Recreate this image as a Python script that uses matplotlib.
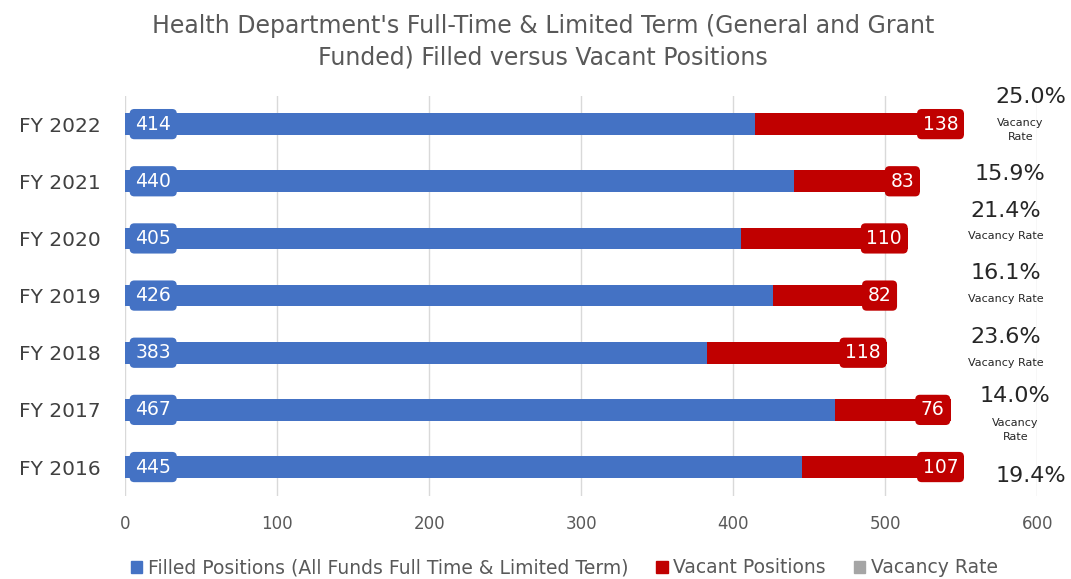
import matplotlib.pyplot as plt
from matplotlib.patches import Patch

plt.rcParams['font.family'] = ['DejaVu Sans']

years = ['FY 2016', 'FY 2017', 'FY 2018', 'FY 2019', 'FY 2020', 'FY 2021', 'FY 2022']
filled = [445, 467, 383, 426, 405, 440, 414]
vacant = [107, 76, 118, 82, 110, 83, 138]
rate_notes = ['', 'Vacancy\nRate', 'Vacancy Rate', 'Vacancy Rate', 'Vacancy Rate', '', 'Vacancy\nRate']

# where each vacancy-rate note sits (pixels): x shift, pct y shift, note y shift
note_pos = [(15, -9, 0), (0, 14, -20), (-10, 16, -10), (-10, 23, -3),
            (-10, 27, 2), (-5, 7, 0), (15, 27, -6)]

blue = '#4472C4'
red = '#C00000'

fig = plt.figure(figsize=(10.71, 5.79), dpi=100)
ax = fig.add_axes([0.117, 0.144, 0.8515, 0.691])

y = range(len(years))
ax.barh(y, filled, height=0.38, color=blue, zorder=2)
ax.barh(y, vacant, left=filled, height=0.38, color=red, zorder=2)

for i in y:
    ax.annotate(str(filled[i]), (0, i), xytext=(10, 0), textcoords='offset pixels',
                ha='left', va='center', color='white', fontsize=13.5, zorder=4,
                bbox=dict(boxstyle='round,pad=0.3,rounding_size=0.25', fc=blue, ec='none'))
    end = filled[i] + vacant[i]
    ax.annotate(str(vacant[i]), (end, i), xytext=(-6, 0), textcoords='offset pixels',
                ha='right', va='center', color='white', fontsize=13.5, zorder=4,
                bbox=dict(boxstyle='round,pad=0.3,rounding_size=0.25', fc=red, ec='none'))

    rate = vacant[i] / (filled[i] + vacant[i]) * 100
    dx, dyp, dyn = note_pos[i]
    tr = ax.get_yaxis_transform()
    ax.annotate(f'{rate:.1f}%', (0.976, i), xycoords=tr, xytext=(dx, dyp),
                textcoords='offset pixels', ha='center', va='center',
                fontsize=16, color='#262626', annotation_clip=False)
    if rate_notes[i]:
        ax.annotate(rate_notes[i], (0.976, i), xycoords=tr, xytext=(min(dx, 5), dyn),
                    textcoords='offset pixels', ha='center', va='center',
                    fontsize=8, color='#262626', linespacing=1.5,
                    annotation_clip=False)

ax.set_xlim(0, 600)
ax.set_ylim(-0.5, len(years) - 0.5)
ax.set_xticks(range(0, 601, 100))
ax.set_yticks(list(y))
ax.set_yticklabels(years)
ax.tick_params(axis='y', length=0, labelsize=14.5, labelcolor='#404040', pad=18)
ax.tick_params(axis='x', length=0, labelsize=12, labelcolor='#595959', pad=14)
ax.grid(axis='x', color='#D9D9D9', linewidth=1, zorder=0)
for s in ax.spines.values():
    s.set_visible(False)

fig.suptitle("Health Department's Full-Time & Limited Term (General and Grant\nFunded) Filled versus Vacant Positions",
             x=0.507, y=0.975, fontsize=17, color='#595959', linespacing=1.35)

handles = [Patch(color=blue), Patch(color=red), Patch(color='#A5A5A5')]
labels = ['Filled Positions (All Funds Full Time & Limited Term)', 'Vacant Positions', 'Vacancy Rate']
fig.legend(handles, labels, loc='center', bbox_to_anchor=(0.527, 0.019), ncol=3, frameon=False,
           fontsize=13.5, labelcolor='#595959', handlelength=0.6, handleheight=0.6,
           handletextpad=0.3, columnspacing=1.5)

fig.savefig('out.png', dpi=100)
